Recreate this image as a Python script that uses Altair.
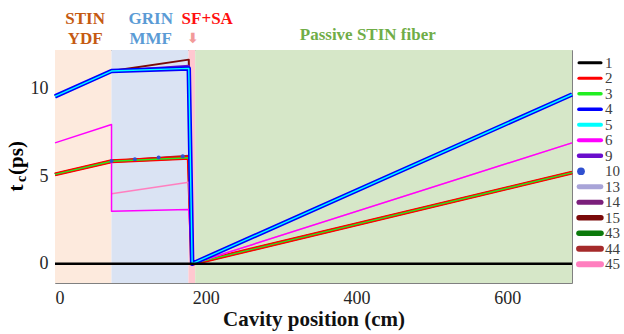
import altair as alt
import pandas as pd

# ---------------- data ----------------
region_names = ["STIN YDF", "GRIN MMF", "SF+SA", "Passive STIN fiber"]
region_start = [0, 75, 177, 186]
region_end = [75, 177, 186, 686]

x_main = [0, 75, 177.5, 182, 686]
y_blue = [9.55, 11.0, 11.15, 0, 9.66]
y_lavender = [9.55, 11.0, 11.22, 0, 9.66]
y_violet = [9.55, 11.0, 11.3, 0, 9.66]
y_brown = [9.55, 11.0, 11.65, 0, 9.66]
y_red = [5.1, 5.85, 6.05, 0, 5.2]
y_purple = [5.1, 5.85, 6.1, 0, 5.2]
y_darkred = [5.1, 5.85, 6.15, 0, 5.2]
x_magenta = [0, 75, 75, 177.5, 182, 686]
y_magenta = [6.9, 7.95, 3.0, 3.1, 0, 6.9]
x_pink = [75, 177.5, 182, 686]
y_pink = [4.0, 4.65, 0, 6.9]
x_dots = [75, 106, 137.5, 169.5]
y_dots = [5.87, 5.97, 6.06, 6.14]
x_zero = [0, 686]
y_zero = [0, 0]

legend_labels = ["1", "2", "3", "4", "5", "6", "9", "10", "13", "14", "15", "43", "44", "45"]

x_ticks = [0, 200, 400, 600]
y_ticks = [0, 5, 10]

# ---------------- styles ----------------
W, H = 517, 233
SERIF = "Liberation Serif"
region_colors = ["#FDEADD", "#DAE3F3", "#FFC8D0", "#D6E7C8"]
legend_colors = ["#000000", "#FF0000", "#22EE22", "#0000FF", "#00FFFF", "#FF00FF",
                 "#6A0DCC", "#3050D0", "#A8A4D8", "#7B1F7B", "#7A0A0A", "#0B7A0B",
                 "#A52A2A", "#FF7FBF"]
legend_widths = [3, 6, 2, 6, 2.2, 2, 3, 0, 6, 2.5, 2.5, 3, 3, 2.5]

xscale = alt.Scale(domain=[0, 686], nice=False, zero=False)
yscale = alt.Scale(domain=[-1.1, 12.2], nice=False, zero=False)
xaxis = alt.Axis(values=x_ticks, title="Cavity position (cm)", grid=False, ticks=False,
                 domain=False, labelPadding=6, titlePadding=1,
                 labelFont=SERIF, labelFontSize=18, labelColor="#262626",
                 titleFont=SERIF, titleFontSize=21, titleFontWeight="bold", titleColor="#111111")
yaxis = alt.Axis(values=y_ticks, title=None, grid=False, ticks=False, domain=False,
                 labelPadding=7, labelFont=SERIF, labelFontSize=18, labelColor="#262626")


def line(xs, ys, color, width):
    df = pd.DataFrame({"x": xs, "y": ys, "i": list(range(len(xs)))})
    return alt.Chart(df).mark_line(color=color, strokeWidth=width, strokeJoin="round").encode(
        x=alt.X("x:Q", scale=xscale, axis=xaxis),
        y=alt.Y("y:Q", scale=yscale, axis=yaxis),
        order="i:Q",
    )


regions = pd.DataFrame({"name": region_names, "start": region_start, "end": region_end})
bg = alt.Chart(regions).mark_rect().encode(
    x=alt.X("start:Q", scale=xscale, axis=xaxis),
    x2="end:Q",
    y=alt.value(0),
    y2=alt.value(H),
    color=alt.Color("name:N", scale=alt.Scale(domain=region_names, range=region_colors), legend=None),
)

layers = [
    bg,
    line(x_main, y_lavender, "#A8A4D8", 3),
    line(x_main, y_brown, "#7A0A0A", 2),
    line(x_main, y_violet, "#6A0DCC", 2),
    line(x_main, y_purple, "#7B1F7B", 2.5),
    line(x_main, y_darkred, "#A52A2A", 2.5),
    line(x_main, y_red, "#0B7A0B", 3),
    line(x_main, y_red, "#FF0000", 4),
    line(x_main, y_red, "#22EE22", 1.3),
    line(x_pink, y_pink, "#FF7FBF", 1.5),
    line(x_magenta, y_magenta, "#FF00FF", 1.5),
    line(x_main, y_blue, "#0000FF", 4.5),
    line(x_main, y_blue, "#00FFFF", 1.4),
    alt.Chart(pd.DataFrame({"x": x_dots, "y": y_dots})).mark_circle(color="#3050D0", size=16, opacity=1).encode(
        x=alt.X("x:Q", scale=xscale, axis=xaxis), y=alt.Y("y:Q", scale=yscale, axis=yaxis)),
    line(x_zero, y_zero, "#000000", 2.5),
]

# annotations above plot
def ann(text, xv, yv, color, size=17, font=SERIF):
    return alt.Chart(pd.DataFrame({"a": [0]})).mark_text(
        text=text, font=font, fontWeight="bold", fontSize=size, color=color,
        align="center", baseline="middle").encode(x=alt.datum(xv), y=alt.value(yv))

layers += [
    ann("STIN", 40, -31, "#C55A11"),
    ann("YDF", 40, -11, "#C55A11"),
    ann("GRIN", 127, -31, "#5B9BD5"),
    ann("MMF", 127, -11, "#5B9BD5"),
    ann("SF+SA", 202, -31, "#FF1010"),
    ann("⬇", 183, -11, "#F29A9A", 14, "DejaVu Sans"),
    ann("Passive STIN fiber", 415, -15, "#70AD47"),
]

# y title with subscript
def ytitle(text, xv, yv, size):
    return alt.Chart(pd.DataFrame({"a": [0]})).mark_text(
        text=text, font=SERIF, fontWeight="bold", fontSize=size, color="#000000",
        angle=270, align="center", baseline="middle").encode(x=alt.value(xv), y=alt.value(yv))

layers += [ytitle("t", -38, 138, 21), ytitle("c", -33, 129, 14), ytitle("(ps)", -38, 108, 21)]

main = alt.layer(*layers)

# legend panel (drawn to the right of the plot)
leg = pd.DataFrame({"label": legend_labels})
ly = alt.Y("label:N", scale=alt.Scale(domain=legend_labels, range=[5, 222], padding=0), axis=None)
leg_rules = alt.Chart(leg).transform_filter(alt.datum.label != "10").mark_rule(strokeCap="round").encode(
    x=alt.value(524), x2=alt.value(546), y=ly,
    color=alt.Color("label:N", scale=alt.Scale(domain=legend_labels, range=legend_colors), legend=None),
    strokeWidth=alt.StrokeWidth("label:N", scale=alt.Scale(domain=legend_labels, range=legend_widths), legend=None),
)
leg_dot = alt.Chart(leg).transform_filter(alt.datum.label == "10").mark_circle(size=60, color="#3050D0", opacity=1).encode(
    x=alt.value(526), y=ly)
leg_text = alt.Chart(leg).mark_text(font=SERIF, fontSize=15, color="#404040", align="left", baseline="middle").encode(
    x=alt.value(550), y=ly, text="label:N")
legend = alt.layer(leg_rules, leg_dot, leg_text)

chart = alt.layer(main, legend).resolve_scale(y="independent", color="independent").properties(
    width=W, height=H,
    padding={"left": 55, "top": 50, "right": 52, "bottom": 51},
    autosize=alt.AutoSizeParams(type="none"),
).configure_view(stroke="#808080", strokeWidth=1)

chart.save("out.html", embed_options={"renderer": "svg", "actions": False})
